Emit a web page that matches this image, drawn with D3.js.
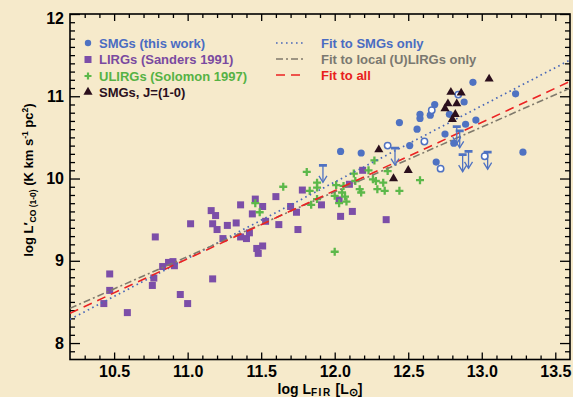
<!DOCTYPE html>
<html><head><meta charset="utf-8">
<script src="https://cdn.jsdelivr.net/npm/d3@7"></script>
<style>
html,body{margin:0;padding:0;background:#f6eacb;}
svg{display:block;font-family:"Liberation Sans",Arial,Helvetica,sans-serif;font-weight:bold;}
</style></head><body>
<svg id="chart" width="573" height="397"></svg>
<script>
// LIRGs (Sanders 1991): log L_FIR vs log L'_CO
const lirgX = [10.43,10.47,10.47,10.59,10.76,10.77,10.78,10.83,10.87,10.90,10.91,10.95,11.00,11.02,11.16,11.19,11.17,11.20,11.17,11.24,11.27,11.33,11.36,11.36,11.40,11.42,11.44,11.46,11.47,11.48,11.51,11.51,11.53,11.60,11.62,11.70,11.74,11.75,11.78,11.91,12.03,12.04,12.10,12.12,12.19,12.35];
const lirgY = [8.48,8.64,8.84,8.37,8.70,8.79,9.29,8.93,8.98,8.99,8.94,8.59,8.48,9.45,9.61,9.55,9.45,9.38,8.78,9.27,9.43,9.46,9.29,9.68,9.27,9.34,9.57,9.75,9.15,9.09,9.66,9.18,9.48,9.78,9.44,9.66,9.59,9.38,9.86,9.68,9.74,9.54,9.93,9.60,10.10,9.50];

// ULIRGs (Solomon 1997)
const ulirgX = [11.46,11.49,11.65,11.81,11.88,11.88,11.83,11.88,11.84,12.00,12.01,12.06,12.05,12.07,12.00,12.03,12.08,12.13,12.14,12.17,12.18,12.23,12.27,12.26,12.28,12.33,12.29,12.34,12.36,12.44,12.58];
const ulirgY = [9.70,9.59,9.90,10.08,9.95,9.89,9.85,9.75,9.68,9.11,9.92,9.91,9.83,9.78,9.79,9.70,9.72,10.06,9.97,9.87,9.83,10.10,10.22,9.99,9.97,9.95,9.87,9.85,10.09,9.85,9.98];

// SMGs (this work): detections
const smgX = [12.94,13.23,12.68,12.88,12.58,12.58,12.65,12.44,12.78,12.56,12.89,12.96,12.75,12.81,12.51,12.69,13.28,12.04,12.18];
const smgY = [11.17,11.03,10.90,10.93,10.78,10.73,10.77,10.68,10.78,10.60,10.66,10.71,10.54,10.43,10.40,10.20,10.32,10.33,10.31];
// SMGs (this work): open symbols
const smgOpenX = [12.84,12.66,12.36,12.61,12.72,13.02];
const smgOpenY = [11.02,10.83,10.40,10.45,10.12,10.27];
// SMGs (this work): upper limits
const limX = [11.92,12.41,12.83,12.85,12.87,12.91,13.04];
const limY = [10.16,10.37,10.63,10.58,10.29,10.33,10.32];

// SMGs observed in CO J=(1-0)
const co10X = [13.05,12.79,12.86,12.77,12.83,12.75,12.82,12.80,12.50,12.40,12.30];
const co10Y = [11.21,11.05,11.04,10.91,10.91,10.85,10.78,10.72,10.10,10.00,10.35];

// Linear fits: log L'_CO = slope * log L_FIR + intercept
const fitLabels = ["Fit to SMGs only", "Fit to local (U)LIRGs only", "Fit to all"];
const fitSlope = [0.927, 0.787, 0.829];
const fitIntercept = [-1.167, 0.395, -0.094];

// Axis ticks
const xTickValues = [10.5, 11.0, 11.5, 12.0, 12.5, 13.0, 13.5];
const xTickLabels = ["10.5", "11.0", "11.5", "12.0", "12.5", "13.0", "13.5"];
const yTickValues = [8, 9, 10, 11, 12];
const yTickLabels = ["8", "9", "10", "11", "12"];

const seriesLabels = ["SMGs (this work)", "LIRGs (Sanders 1991)", "ULIRGs (Solomon 1997)", "SMGs, J=(1-0)"];

const C = {
  blue: "#4f72c2", purple: "#7c4ea8", green: "#5cb84a", dark: "#2b0f1c",
  red: "#ec2222", gray: "#807a6c", dot: "#4a68b8",
  blueText: "#4a6cc2", purpleText: "#7a4aa0", greenText: "#55b244", darkText: "#2a1020",
  grayText: "#7a7870", redText: "#e8201c"
};

const svg = d3.select("#chart");
const pL = 70, pR = 570, pT = 14, pB = 359.5;
const x = d3.scaleLinear().domain([10.2, 13.6]).range([pL, pR]);
const y = d3.scaleLinear().domain([7.8, 12]).range([pB, pT]);

svg.append("rect").attr("width", 573).attr("height", 397).attr("fill", "#f6eacb");

svg.append("defs").append("clipPath").attr("id", "plot")
  .append("rect").attr("x", pL).attr("y", pT).attr("width", pR - pL).attr("height", pB - pT);

// minor tick positions
const xMinor = d3.range(103, 136).map(v => v / 10).filter(v => Math.abs(v * 2 - Math.round(v * 2)) > 1e-6);
const yMinor = d3.range(79, 120).map(v => v / 10).filter(v => Math.abs(v - Math.round(v)) > 1e-6);

function styleAxis(g) {
  g.select(".domain").remove();
  g.selectAll("line").attr("stroke", "#000").attr("stroke-width", 1.3);
  g.selectAll("text").attr("font-size", 16).attr("font-weight", "bold")
    .attr("font-family", '"Liberation Sans",Arial,Helvetica,sans-serif').attr("fill", "#000");
}

// bottom / top
svg.append("g").attr("transform", `translate(0,${pB})`)
  .call(d3.axisBottom(x).tickValues(xTickValues).tickSize(-7).tickPadding(6)
    .tickFormat((d, i) => xTickLabels[i])).call(styleAxis);
svg.append("g").attr("transform", `translate(0,${pB})`)
  .call(d3.axisBottom(x).tickValues(xMinor).tickSize(-4).tickFormat("")).call(styleAxis);
svg.append("g").attr("transform", `translate(0,${pT})`)
  .call(d3.axisTop(x).tickValues(xTickValues).tickSize(-7).tickFormat("")).call(styleAxis);
svg.append("g").attr("transform", `translate(0,${pT})`)
  .call(d3.axisTop(x).tickValues(xMinor).tickSize(-4).tickFormat("")).call(styleAxis);
// left / right
const yAxisG = svg.append("g").attr("transform", `translate(${pL},0)`)
  .call(d3.axisLeft(y).tickValues(yTickValues).tickSize(-10).tickPadding(6)
    .tickFormat((d, i) => yTickLabels[i])).call(styleAxis);
// keep the top label clear of the frame corner
yAxisG.selectAll(".tick text").filter(d => d === 12).attr("dy", "0.6em");
svg.append("g").attr("transform", `translate(${pL},0)`)
  .call(d3.axisLeft(y).tickValues(yMinor).tickSize(-5).tickFormat("")).call(styleAxis);
svg.append("g").attr("transform", `translate(${pR},0)`)
  .call(d3.axisRight(y).tickValues(yTickValues).tickSize(-10).tickFormat("")).call(styleAxis);
svg.append("g").attr("transform", `translate(${pR},0)`)
  .call(d3.axisRight(y).tickValues(yMinor).tickSize(-5).tickFormat("")).call(styleAxis);

// frame
svg.append("rect").attr("x", pL).attr("y", pT).attr("width", pR - pL).attr("height", pB - pT)
  .attr("fill", "none").attr("stroke", "#000").attr("stroke-width", 1.6);

const plot = svg.append("g").attr("clip-path", "url(#plot)");

// LIRG squares
const sq = 7;
plot.append("g").selectAll("rect").data(lirgX).join("rect")
  .attr("x", (d, i) => x(d) - sq / 2).attr("y", (d, i) => y(lirgY[i]) - sq / 2)
  .attr("width", sq).attr("height", sq).attr("fill", C.purple);

// ULIRG plus signs
const plus = h => `M${-h},0H${h}M0,${-h}V${h}`;
plot.append("g").selectAll("path").data(ulirgX).join("path")
  .attr("transform", (d, i) => `translate(${x(d)},${y(ulirgY[i])})`)
  .attr("d", plus(4)).attr("stroke", C.green).attr("stroke-width", 2.3).attr("fill", "none");

// fit lines
const fitStyles = [
  { stroke: C.dot, dash: "1.6,3.4", width: 1.7 },
  { stroke: C.gray, dash: "7,3,2,3", width: 1.6 },
  { stroke: C.red, dash: "9,6", width: 1.6 }
];
const xd = x.domain();
fitLabels.forEach((lab, i) => {
  plot.append("line")
    .attr("x1", x(xd[0])).attr("y1", y(fitSlope[i] * xd[0] + fitIntercept[i]))
    .attr("x2", x(xd[1])).attr("y2", y(fitSlope[i] * xd[1] + fitIntercept[i]))
    .attr("stroke", fitStyles[i].stroke).attr("stroke-width", fitStyles[i].width)
    .attr("stroke-dasharray", fitStyles[i].dash);
});

// SMG detections
plot.append("g").selectAll("circle").data(smgX).join("circle")
  .attr("cx", d => x(d)).attr("cy", (d, i) => y(smgY[i])).attr("r", 3.6).attr("fill", C.blue);
plot.append("g").selectAll("circle").data(smgOpenX).join("circle")
  .attr("cx", d => x(d)).attr("cy", (d, i) => y(smgOpenY[i])).attr("r", 3.2)
  .attr("fill", "#ffffff").attr("stroke", C.blue).attr("stroke-width", 1.5);

// SMG CO(1-0) triangles
const tri = d3.symbol().type(d3.symbolTriangle).size(36);
plot.append("g").selectAll("path").data(co10X).join("path")
  .attr("transform", (d, i) => `translate(${x(d)},${y(co10Y[i])})`)
  .attr("d", tri()).attr("fill", C.dark);

// upper limits
const lim = plot.append("g").attr("stroke", C.blue).attr("fill", "none");
limX.forEach((v, i) => {
  const px = x(v), py = y(limY[i]);
  const g = lim.append("g").attr("transform", `translate(${px},${py})`);
  g.append("path").attr("d", "M-4,0H4").attr("stroke-width", 2.8);
  g.append("path").attr("d", "M0,0V17").attr("stroke-width", 1.3);
  g.append("path").attr("d", "M-4,10.5L0,17L4,10.5").attr("stroke-width", 1.3);
});

// legend: data series
const lg = svg.append("g").attr("font-size", 13).attr("font-weight", "bold");
const rowY = [43, 59.5, 76, 92];
const mx = 88;
lg.append("circle").attr("cx", mx).attr("cy", rowY[0]).attr("r", 3.2).attr("fill", C.blue);
lg.append("rect").attr("x", mx - 3.5).attr("y", rowY[1] - 3.5).attr("width", 7).attr("height", 7).attr("fill", C.purple);
lg.append("path").attr("transform", `translate(${mx},${rowY[2]})`).attr("d", plus(3.5))
  .attr("stroke", C.green).attr("stroke-width", 2.2);
lg.append("path").attr("transform", `translate(${mx},${rowY[3]})`).attr("d", tri()).attr("fill", C.dark);
const txtCols = [C.blueText, C.purpleText, C.greenText, C.darkText];
seriesLabels.forEach((s, i) => {
  lg.append("text").attr("x", 99).attr("y", rowY[i]).attr("dy", "0.36em").attr("fill", txtCols[i]).text(s);
});

// legend: fits
const fitRowY = [43, 59, 75];
const fitTextCols = [C.blueText, C.grayText, C.redText];
fitLabels.forEach((s, i) => {
  lg.append("line").attr("x1", 276).attr("x2", 306).attr("y1", fitRowY[i]).attr("y2", fitRowY[i])
    .attr("stroke", fitStyles[i].stroke).attr("stroke-width", fitStyles[i].width)
    .attr("stroke-dasharray", fitStyles[i].dash);
  lg.append("text").attr("x", 321).attr("y", fitRowY[i]).attr("dy", "0.36em").attr("fill", fitTextCols[i]).text(s);
});

// axis titles
const xt = svg.append("text").attr("x", (pL + pR) / 2).attr("y", 394).attr("text-anchor", "middle")
  .attr("font-size", 14).attr("fill", "#000");
xt.append("tspan").text("log L");
xt.append("tspan").attr("font-size", 10).attr("letter-spacing", 1.5).attr("dy", 2).text("FIR");
xt.append("tspan").attr("dy", -2).text(" [L");
xt.append("tspan").attr("font-size", 11).attr("dy", 2).text("\u2299");
xt.append("tspan").attr("dy", -2).text("]");

const yt = svg.append("text").attr("transform", "translate(33,180) rotate(-90)").attr("text-anchor", "middle")
  .attr("font-size", 13).attr("fill", "#000");
yt.append("tspan").text("log L\u2032");
yt.append("tspan").attr("font-size", 8.5).attr("dy", 3).text("CO (1-0)");
yt.append("tspan").attr("dy", -3).text(" (K km s");
yt.append("tspan").attr("font-size", 8.5).attr("dy", -5).text("-1");
yt.append("tspan").attr("dy", 5).text(" pc");
yt.append("tspan").attr("font-size", 8.5).attr("dy", -5).text("2");
yt.append("tspan").attr("dy", 5).text(")");
</script>
</body></html>
